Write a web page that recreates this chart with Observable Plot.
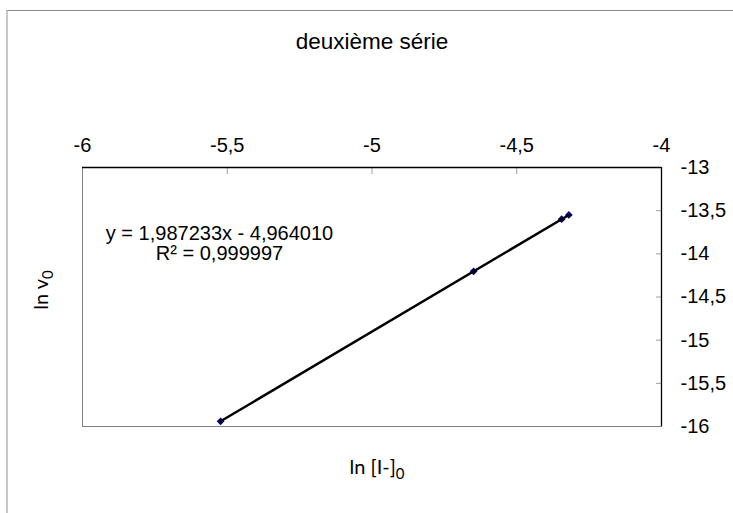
<!DOCTYPE html>
<html><head><meta charset="utf-8">
<script src="https://cdn.jsdelivr.net/npm/d3@7"></script>
<script src="https://cdn.jsdelivr.net/npm/@observablehq/plot@0.6"></script>
<style>
body{margin:0;background:#fff;}
#wrap{position:relative;width:733px;height:513px;overflow:hidden;}
#wrap svg{position:absolute;left:0;top:0;}
#border{position:absolute;left:6px;top:10px;width:800px;height:600px;border-top:1px solid #8a8a8a;border-left:2px solid #c8c8c8;pointer-events:none;}
</style></head><body><div id="wrap"></div>
<script>
// data
const lnI = [-5.523, -4.649, -4.345, -4.320];
const lnV = [-15.940, -14.203, -13.599, -13.549];
const xTicks = [-6, -5.5, -5, -4.5, -4];
const yTicks = [-13, -13.5, -14, -14.5, -15, -15.5, -16];
const titleText = "deuxième série";
const xLabel = "ln [I-]";
const yLabel = "ln v";
const labelSub = "0";
const equationText = "y = 1,987233x - 4,964010";
const r2Text = "R² = 0,999997";

const data = lnI.map((x, i) => ({x, y: lnV[i]}));
const fmt = d => String(d).replace(".", ",");

const chart = Plot.plot({
  width: 733, height: 513,
  marginLeft: 82, marginRight: 72, marginTop: 167, marginBottom: 87,
  style: {fontFamily: "'Liberation Sans', Arial, sans-serif", fontSize: "20px", background: "transparent", color: "#000"},
  x: {domain: [-6, -4]},
  y: {domain: [-16, -13]},
  marks: [
    Plot.frame({stroke: "#808080"}),
    Plot.axisX(xTicks.slice(1, -1), {anchor: "top", tickSize: -6, stroke: "#a0a0a0", tickFormat: () => "", label: null}),
    Plot.axisX(xTicks, {anchor: "top", tickSize: 0, tickPadding: 16, tickFormat: fmt, label: null, fill: "#000", fontSize: 20}),
    Plot.axisY(yTicks.slice(1, -1), {anchor: "right", tickSize: -6, stroke: "#a0a0a0", tickFormat: () => "", label: null}),
    Plot.axisY(yTicks, {anchor: "right", tickSize: 0, tickPadding: 19, tickFormat: fmt, label: null, fill: "#000", fontSize: 20}),
    Plot.ruleY([-13], {stroke: "#000", strokeWidth: 1.3}),
    Plot.ruleX([-4], {stroke: "#000", strokeWidth: 1.3}),
    Plot.dot(data, {x: "x", y: "y", symbol: "diamond2", r: 3.5, fill: "#000080", stroke: "none"}),
    Plot.linearRegressionY(data, {x: "x", y: "y", ci: 0, stroke: "#000", strokeWidth: 2.4}),
    Plot.text([titleText], {frameAnchor: "top", dy: -119, lineAnchor: "bottom", fontSize: 22.5, fill: "#000"}),
    Plot.text([equationText], {frameAnchor: "top-left", textAnchor: "middle", dx: 137, dy: 72, lineAnchor: "bottom", fontSize: 20, fill: "#000"}),
    Plot.text([r2Text], {frameAnchor: "top-left", textAnchor: "middle", dx: 137, dy: 92, lineAnchor: "bottom", fontSize: 20, fill: "#000"}),
    Plot.text([xLabel], {frameAnchor: "bottom", dx: 5, dy: 47, lineAnchor: "bottom", fontSize: 20, fontFamily: "Lato, sans-serif", fill: "#000"}),
    Plot.text([yLabel], {frameAnchor: "left", textAnchor: "middle", dx: -35, dy: -7, rotate: -90, lineAnchor: "bottom", fontSize: 20, fontFamily: "Lato, sans-serif", fill: "#000"})
  ]
});

d3.select(chart).selectAll("text")
  .filter(function () { return this.textContent === xLabel || this.textContent === yLabel; })
  .append("tspan").attr("dy", 5).attr("font-size", "15px").text(labelSub);

const wrap = document.getElementById("wrap");
wrap.appendChild(chart);
const border = document.createElement("div");
border.id = "border";
wrap.appendChild(border);
</script>
</body></html>
